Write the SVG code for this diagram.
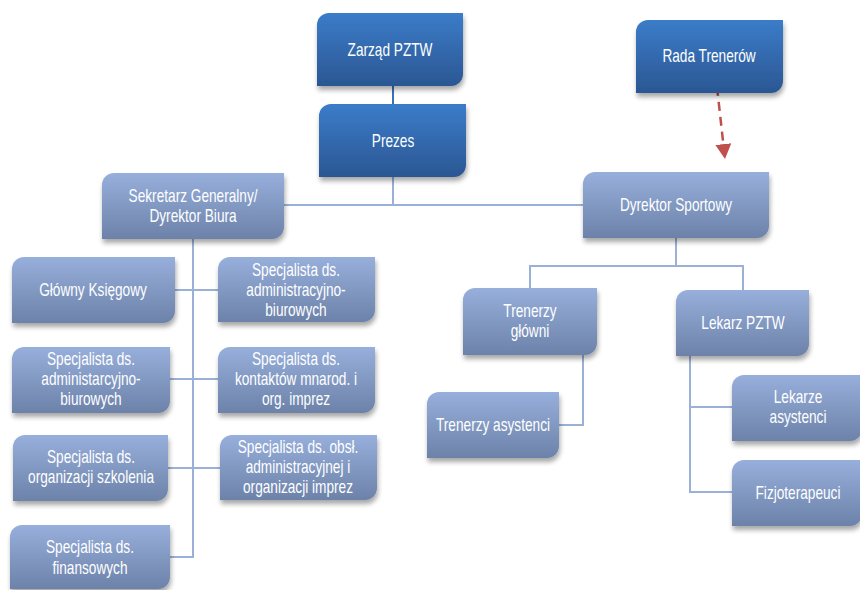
<svg xmlns="http://www.w3.org/2000/svg" width="860" height="590" viewBox="0 0 860 590">
<defs>
<linearGradient id="gDark" x1="0" y1="0" x2="0" y2="1">
<stop offset="0" stop-color="#3b7cc9"/>
<stop offset="1" stop-color="#2b5793"/>
</linearGradient>
<linearGradient id="gLight" x1="0" y1="0" x2="0" y2="1">
<stop offset="0" stop-color="#97afdb"/>
<stop offset="1" stop-color="#6c82a9"/>
</linearGradient>
<filter id="sh" x="-10%" y="-10%" width="125%" height="135%">
<feGaussianBlur in="SourceAlpha" stdDeviation="2.5"/>
<feOffset dx="1" dy="4" result="b"/>
<feComponentTransfer><feFuncA type="linear" slope="0.35"/></feComponentTransfer>
<feMerge><feMergeNode/><feMergeNode in="SourceGraphic"/></feMerge>
</filter>
<marker id="ah" markerWidth="16" markerHeight="16" refX="15" refY="8" orient="auto" markerUnits="userSpaceOnUse" viewBox="0 0 16 16">
<path d="M0,0 L15,8 L0,16 Z" fill="#c0504d"/>
</marker>
</defs>
<style>
.dark{fill:url(#gDark);filter:url(#sh)}
.light{fill:url(#gLight);filter:url(#sh)}
text{font-family:"Liberation Sans Narrow","Liberation Sans",Arial,sans-serif;font-size:17.5px;fill:#ffffff;text-anchor:middle;transform-box:fill-box;transform-origin:center;transform:scaleX(0.78)}
.con{fill:none;stroke:#9bb0d6;stroke-width:2}
</style>
<rect width="860" height="590" fill="#ffffff"/>
<g id="connectors">
<line x1="393" y1="86" x2="393" y2="104" stroke="#3c72b4" stroke-width="2"/>
<polyline class="con" points="393,177 393,205"/>
<line class="con" x1="284" y1="205" x2="583" y2="205"/>
<polyline class="con" points="193,239 193,557 170,557"/>
<line class="con" x1="175" y1="290" x2="218" y2="290"/>
<line class="con" x1="170" y1="379" x2="218" y2="379"/>
<line class="con" x1="168" y1="468" x2="220" y2="468"/>
<polyline class="con" points="676,238 676,266"/>
<polyline class="con" points="530,288 530,266 743,266 743,290"/>
<polyline class="con" points="583,355 583,425 559,425"/>
<polyline class="con" points="690,356 690,492 732,492"/>
<line class="con" x1="690" y1="407" x2="732" y2="407"/>
<line x1="717" y1="87" x2="725" y2="159" stroke="#c0504d" stroke-width="2.5" stroke-dasharray="9,6" marker-end="url(#ah)"/>
</g>
<g id="zarzad">
<path class="dark" d="M329,13 H463 V74 A12,12 0 0 1 451,86 H317 V25 A12,12 0 0 1 329,13 Z"/>
<text x="390" y="56">Zarząd PZTW</text>
</g>
<g id="prezes">
<path class="dark" d="M331,104 H466 V165 A12,12 0 0 1 454,177 H319 V116 A12,12 0 0 1 331,104 Z"/>
<text x="393" y="147">Prezes</text>
</g>
<g id="rada">
<path class="dark" d="M648,20 H783 V81 A12,12 0 0 1 771,93 H636 V32 A12,12 0 0 1 648,20 Z"/>
<text x="709" y="62">Rada Trenerów</text>
</g>
<g id="sekretarz">
<path class="light" d="M114,173 H284 V227 A12,12 0 0 1 272,239 H102 V185 A12,12 0 0 1 114,173 Z"/>
<text x="193" y="202">Sekretarz Generalny/</text>
<text x="193" y="222">Dyrektor Biura</text>
</g>
<g id="dyrektor">
<path class="light" d="M595,172 H769 V226 A12,12 0 0 1 757,238 H583 V184 A12,12 0 0 1 595,172 Z"/>
<text x="676" y="211">Dyrektor Sportowy</text>
</g>
<g id="ksiegowy">
<path class="light" d="M24,257 H175 V311 A12,12 0 0 1 163,323 H12 V269 A12,12 0 0 1 24,257 Z"/>
<text x="93" y="296">Główny Księgowy</text>
</g>
<g id="spec-admin1">
<path class="light" d="M230,257 H375 V310 A12,12 0 0 1 363,322 H218 V269 A12,12 0 0 1 230,257 Z"/>
<text x="296" y="276">Specjalista ds.</text>
<text x="296" y="296">administracyjno-</text>
<text x="296" y="316">biurowych</text>
</g>
<g id="spec-admin2">
<path class="light" d="M24,347 H170 V401 A12,12 0 0 1 158,413 H12 V359 A12,12 0 0 1 24,347 Z"/>
<text x="91" y="365">Specjalista ds.</text>
<text x="91" y="385">administarcyjno-</text>
<text x="91" y="405">biurowych</text>
</g>
<g id="spec-kontakty">
<path class="light" d="M230,347 H375 V401 A12,12 0 0 1 363,413 H218 V359 A12,12 0 0 1 230,347 Z"/>
<text x="296" y="365">Specjalista ds.</text>
<text x="296" y="385">kontaktów mnarod.  i</text>
<text x="296" y="405">org. imprez</text>
</g>
<g id="spec-szkolenia">
<path class="light" d="M25,435 H168 V489 A12,12 0 0 1 156,501 H13 V447 A12,12 0 0 1 25,435 Z"/>
<text x="91" y="463">Specjalista ds.</text>
<text x="91" y="483">organizacji szkolenia</text>
</g>
<g id="spec-obsl">
<path class="light" d="M232,435 H377 V488 A12,12 0 0 1 365,500 H220 V447 A12,12 0 0 1 232,435 Z"/>
<text x="298" y="453">Specjalista ds. obsł.</text>
<text x="298" y="473">administracyjnej i</text>
<text x="298" y="493">organizacji imprez</text>
</g>
<g id="spec-finanse">
<path class="light" d="M22,525 H170 V577 A12,12 0 0 1 158,589 H10 V537 A12,12 0 0 1 22,525 Z"/>
<text x="90" y="553">Specjalista ds.</text>
<text x="90" y="574">finansowych</text>
</g>
<g id="trenerzy-glowni">
<path class="light" d="M475,288 H597 V343 A12,12 0 0 1 585,355 H463 V300 A12,12 0 0 1 475,288 Z"/>
<text x="530" y="317">Trenerzy</text>
<text x="530" y="337">główni</text>
</g>
<g id="lekarz">
<path class="light" d="M688,290 H809 V344 A12,12 0 0 1 797,356 H676 V302 A12,12 0 0 1 688,290 Z"/>
<text x="743" y="329">Lekarz PZTW</text>
</g>
<g id="trenerzy-asystenci">
<path class="light" d="M439,392 H559 V446 A12,12 0 0 1 547,458 H427 V404 A12,12 0 0 1 439,392 Z"/>
<text x="493" y="431">Trenerzy asystenci</text>
</g>
<g id="lekarze-asystenci">
<path class="light" d="M744,375 H862 V429 A12,12 0 0 1 850,441 H732 V387 A12,12 0 0 1 744,375 Z"/>
<text x="798" y="403">Lekarze</text>
<text x="798" y="423">asystenci</text>
</g>
<g id="fizjoterapeuci">
<path class="light" d="M744,460 H862 V514 A12,12 0 0 1 850,526 H732 V472 A12,12 0 0 1 744,460 Z"/>
<text x="798" y="499">Fizjoterapeuci</text>
</g>
</svg>
